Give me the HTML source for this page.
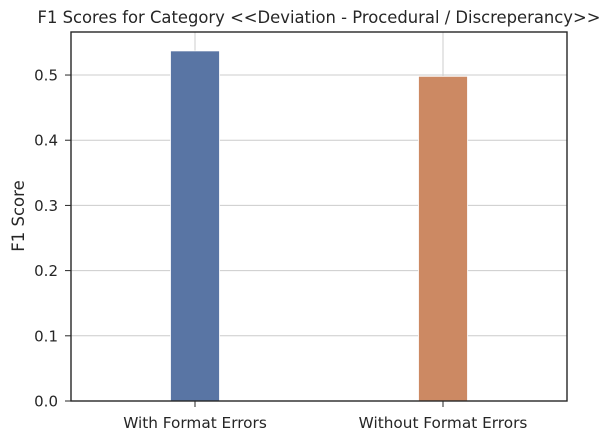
<!DOCTYPE html>
<html><head><meta charset="utf-8"><style>
html,body{margin:0;padding:0;background:#fff;}
svg text{font-family:"DejaVu Sans","Liberation Sans",sans-serif;fill:#262626;}
</style></head><body>
<svg id="chart" width="614" height="440" xmlns="http://www.w3.org/2000/svg">
<text x="319" y="23" font-size="16.4" text-anchor="middle">F1 Scores for Category &lt;&lt;Deviation - Procedural / Discreperancy&gt;&gt;</text>
<text transform="translate(24,216) rotate(-90)" font-size="16.5" text-anchor="middle">F1 Score</text>
<g id="grid"></g><g id="bars"></g><g id="axes"></g>
</svg>
<script>
const categories = ["With Format Errors", "Without Format Errors"];
const values = [0.537, 0.498];
const colors = ["#5975a4", "#cc8963"];
const yTicks = [0.0, 0.1, 0.2, 0.3, 0.4, 0.5];
const yTickLabels = ["0.0", "0.1", "0.2", "0.3", "0.4", "0.5"];
const L=71,R=567,T=32,B=401,yMax=0.566;
const NS="http://www.w3.org/2000/svg";
const y=v=>B-(v/yMax)*(B-T);
const x=i=>195+i*248;
function mk(tag,attrs,parent,text){const e=document.createElementNS(NS,tag);for(const k in attrs)e.setAttribute(k,attrs[k]);if(text!==undefined)e.textContent=text;parent.appendChild(e);return e;}
const grid=document.getElementById('grid'),bars=document.getElementById('bars'),axes=document.getElementById('axes');
yTicks.forEach((t,i)=>{
 const g=mk('line',{x1:L,x2:R,y1:y(t),y2:y(t),stroke:'#cccccc','stroke-width':1},grid);
 
 
 const tk=mk('line',{x1:L-6,x2:L,y1:y(t),y2:y(t),stroke:'#262626','stroke-width':1},axes);
 
 
 const lb=mk('text',{x:L-13,y:y(t)+5.5,'font-size':15,'text-anchor':'end'},axes,yTickLabels[i]);
 
 
});
categories.forEach((c,i)=>{
 const g=mk('line',{x1:x(i),x2:x(i),y1:T,y2:B,stroke:'#cccccc','stroke-width':1},grid);
 
 
 const r=mk('rect',{x:x(i)-24.5,y:y(values[i]),width:49,height:B-y(values[i]),fill:colors[i],stroke:'#ffffff','stroke-width':0.8},bars);
 
 
 const tk=mk('line',{x1:x(i),x2:x(i),y1:B,y2:B+6,stroke:'#262626','stroke-width':1},axes);
 
 
 const lb=mk('text',{x:x(i),y:B+27,'font-size':15.3,'text-anchor':'middle'},axes,c);
 
 
});
const f=mk('rect',{x:L,y:T,width:R-L,height:B-T,fill:'none',stroke:'#262626','stroke-width':1.4},axes);


</script>
</body></html>
